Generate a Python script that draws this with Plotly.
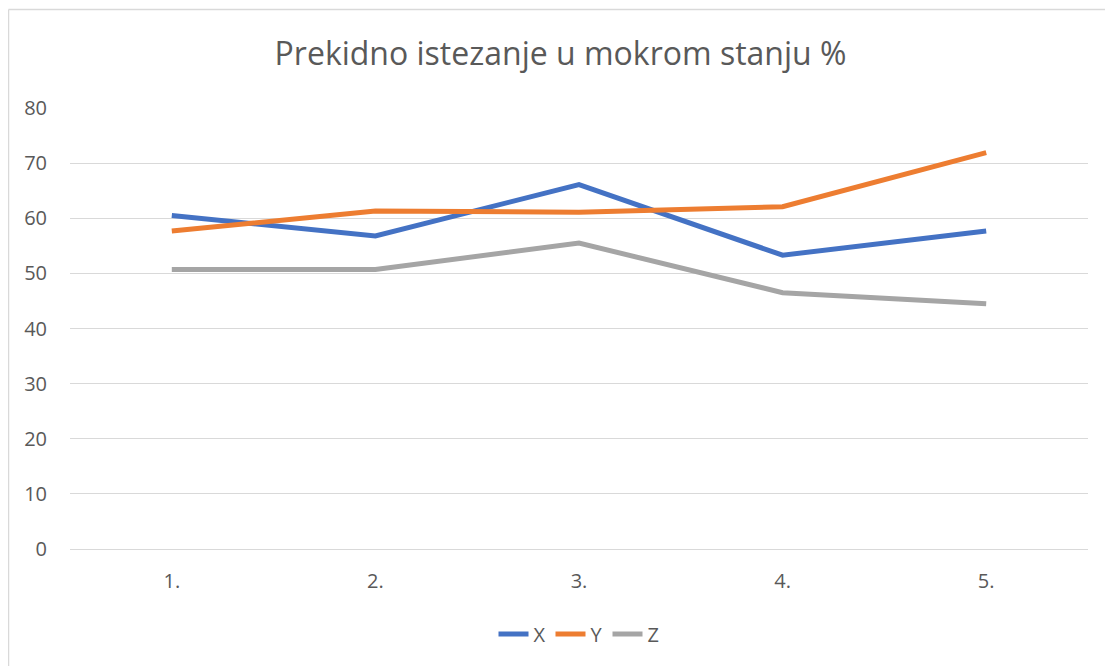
import plotly.graph_objects as go

categories = ["1.", "2.", "3.", "4.", "5."]
x_vals = [60.5, 56.8, 66.1, 53.3, 57.7]
y_vals = [57.7, 61.3, 61.1, 62.1, 71.9]
z_vals = [50.7, 50.7, 55.5, 46.5, 44.5]
y_ticks = [0, 10, 20, 30, 40, 50, 60, 70, 80]

series = [("X", x_vals, "#4472C4"), ("Y", y_vals, "#ED7D31"), ("Z", z_vals, "#A5A5A5")]

fig = go.Figure()
for name, vals, color in series:
    fig.add_trace(go.Scatter(x=categories, y=vals, name=name, mode="lines",
                             line=dict(color=color, width=5, shape="linear")))

# page has an 8px body margin; figure coordinates = page coordinates - 8
W, H = 1105, 658
ml, mr, mt, mb = 62, 25, 100, 117
pw, ph = W - ml - mr, H - mt - mb

def px_to_paper_x(px):
    return (px - ml) / pw

def px_to_paper_y(py):
    return (H - mb - py) / ph

fig.update_layout(
    width=W, height=H,
    margin=dict(l=ml, r=mr, t=mt, b=mb),
    paper_bgcolor="white", plot_bgcolor="white",
    font=dict(family="Open Sans, Calibri, sans-serif", color="#595959", size=20),
    title=dict(text="Prekidno istezanje u mokrom stanju %", x=0.5, xanchor="center",
               y=1 - 46 / H, yanchor="middle",
               font=dict(size=32, color="#595959")),
    xaxis=dict(showgrid=False, showline=False, zeroline=False, ticks="",
               range=[-0.5, 4.5], tickfont=dict(size=20, color="#595959"),
               ticklabelstandoff=18),
    yaxis=dict(range=[0, 80], tickvals=y_ticks, showgrid=True, gridcolor="#D9D9D9",
               gridwidth=1, zeroline=True, zerolinecolor="#D9D9D9", zerolinewidth=1,
               showline=False, ticks="", tickfont=dict(size=20, color="#595959"),
               ticklabelstandoff=22),
    legend=dict(orientation="h", x=0.5, xanchor="center", y=px_to_paper_y(626),
                yanchor="middle", font=dict(size=20, color="#595959"),
                itemwidth=30, tracegroupgap=0),
    showlegend=True,
    shapes=[
        dict(type="line", xref="paper", yref="paper",
             x0=px_to_paper_x(0.5), x1=px_to_paper_x(0.5),
             y0=px_to_paper_y(1.5), y1=px_to_paper_y(700),
             line=dict(color="#D9D9D9", width=1.5), layer="below"),
        dict(type="line", xref="paper", yref="paper",
             x0=px_to_paper_x(0.5), x1=px_to_paper_x(1200),
             y0=px_to_paper_y(1.5), y1=px_to_paper_y(1.5),
             line=dict(color="#D9D9D9", width=1.5), layer="below"),
    ],
)

fig.write_html("out.html")
